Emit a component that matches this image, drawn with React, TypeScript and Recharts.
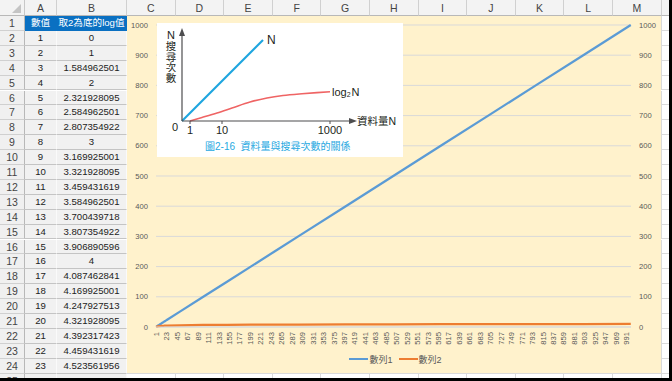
import { LineChart, Line, XAxis, YAxis, CartesianGrid, Legend, ReferenceDot } from "recharts";

const FONT = '"Liberation Sans", "Noto Sans CJK TC", sans-serif';

// spreadsheet contents
const colLetters = ["A", "B", "C", "D", "E", "F", "G", "H", "I", "J", "K", "L", "M", ""];
const colWidths = [32, 70, 48.6, 48.6, 48.6, 48.6, 48.6, 48.6, 48.6, 48.6, 48.6, 48.6, 48.6, 48.6];
const rowNumbers = [1, 2, 3, 4, 5, 6, 7, 8, 9, 10, 11, 12, 13, 14, 15, 16, 17, 18, 19, 20, 21, 22, 23, 24, 25];
const headerA = "數值";
const headerB = "取2為底的log值";
const valueN = [1, 2, 3, 4, 5, 6, 7, 8, 9, 10, 11, 12, 13, 14, 15, 16, 17, 18, 19, 20, 21, 22, 23, 24];
const valueLog = [
  "0", "1", "1.584962501", "2", "2.321928095", "2.584962501", "2.807354922", "3",
  "3.169925001", "3.321928095", "3.459431619", "3.584962501", "3.700439718", "3.807354922",
  "3.906890596", "4", "4.087462841", "4.169925001", "4.247927513", "4.321928095",
  "4.392317423", "4.459431619", "4.523561956", "4.584962501",
];

// main chart
const sampleN = [1, 2, 3, 4, 5, 6, 7, 8, 9, 10, 11, 12, 13, 14, 15, 16, 17, 18, 19, 20, 21, 22, 23, 24, 50, 100, 150, 200, 250, 300, 400, 500, 600, 700, 800, 900, 1000];
const series1 = [1, 2, 3, 4, 5, 6, 7, 8, 9, 10, 11, 12, 13, 14, 15, 16, 17, 18, 19, 20, 21, 22, 23, 24, 50, 100, 150, 200, 250, 300, 400, 500, 600, 700, 800, 900, 1000];
const series2 = [0, 1, 1.585, 2, 2.322, 2.585, 2.807, 3, 3.17, 3.322, 3.459, 3.585, 3.7, 3.807, 3.907, 4, 4.087, 4.17, 4.248, 4.322, 4.392, 4.459, 4.524, 4.585, 5.644, 6.644, 7.229, 7.644, 7.966, 8.229, 8.644, 8.966, 9.229, 9.451, 9.644, 9.814, 9.966];
const xTicks = [1, 23, 45, 67, 89, 111, 133, 155, 177, 199, 221, 243, 265, 287, 309, 331, 353, 375, 397, 419, 441, 463, 485, 507, 529, 551, 573, 595, 617, 639, 661, 683, 705, 727, 749, 771, 793, 815, 837, 859, 881, 903, 925, 947, 969, 991];
const yTicks = [0, 100, 200, 300, 400, 500, 600, 700, 800, 900, 1000];
const seriesNames = ["數列1", "數列2"];

const mainData = sampleN.map((n, i) => ({ n, s1: series1[i], s2: series2[i] }));

// inset figure (schematic)
const insetLineU = [0, 81];
const insetLineV = [0, 81];
const insetLogU = [8, 20, 35, 50, 68, 85, 101, 120, 135, 148];
const insetLogV = [0, 3.5, 8, 13, 19, 23, 25.5, 27.3, 28.4, 29.2];
const insetTicks = [8, 40, 148];
const insetTickLabels = ["1", "10", "1000"];

const insetN = insetLineU.map((u, i) => ({ u, v: insetLineV[i] }));
const insetLog = insetLogU.map((u, i) => ({ u, v: insetLogV[i] }));

const ROW_H = 14.9;
const HEAD_H = 16;
const ROWHEAD_W = 25;

function Sheet() {
  const lefts: number[] = [];
  let acc = ROWHEAD_W;
  colWidths.forEach((w) => {
    lefts.push(acc);
    acc += w;
  });
  const cells: any[] = [];
  // column header
  cells.push(
    <div key="corner" style={{ position: "absolute", left: 0, top: 0, width: ROWHEAD_W, height: HEAD_H, background: "#f3f3f3", borderRight: "1px solid #c8c8c8", borderBottom: "1px solid #b8b8b8", boxSizing: "border-box" }}>
      <div style={{ position: "absolute", right: 3, bottom: 2, width: 0, height: 0, borderLeft: "9px solid transparent", borderBottom: "9px solid #c4c4c4" }} />
    </div>
  );
  colLetters.forEach((c, i) => {
    cells.push(
      <div key={"h" + i} style={{ position: "absolute", left: lefts[i], top: 0, width: colWidths[i], height: HEAD_H, background: "#f3f3f3", borderRight: "1px solid #d0d0d0", borderBottom: "1px solid #b8b8b8", boxSizing: "border-box", fontSize: 10.5, color: "#444", textAlign: "center", lineHeight: HEAD_H + "px" }}>
        {c}
      </div>
    );
  });
  rowNumbers.forEach((r, ri) => {
    const top = HEAD_H + ri * ROW_H;
    cells.push(
      <div key={"r" + r} style={{ position: "absolute", left: 0, top, width: ROWHEAD_W, height: ROW_H, background: "#f0f0f0", borderRight: "1px solid #b8b8b8", borderBottom: "1px solid #d0d0d0", boxSizing: "border-box", fontSize: 10.5, color: "#444", textAlign: "center", lineHeight: ROW_H + "px" }}>
        {r}
      </div>
    );
    colWidths.forEach((w, ci) => {
      let bg = "#ffffff";
      let color = "#222";
      let text: any = "";
      let bb = "1px solid #dadada";
      let br = "1px solid #dadada";
      if (ci < 2) {
        if (r === 1) {
          bg = "#0a70c2";
          color = "#fff";
          text = ci === 0 ? headerA : headerB;
          br = "1px solid #0a70c2";
          bb = "1px solid #0a70c2";
        } else {
          bg = "#f1f1f1";
          text = ci === 0 ? valueN[r - 2] : valueLog[r - 2];
          bb = "1px solid #c4c4c4";
          br = "1px solid #fafafa";
        }
      }
      cells.push(
        <div key={"c" + r + "_" + ci} style={{ position: "absolute", left: lefts[ci], top, width: w, height: ROW_H, background: bg, borderRight: br, borderBottom: bb, boxSizing: "border-box", fontSize: 9.6, color, textAlign: "center", lineHeight: ROW_H + "px", whiteSpace: "nowrap", overflow: "hidden" }}>
          {text}
        </div>
      );
    });
  });
  return <>{cells}</>;
}

const RotTick = (props: any) => {
  const { x, y, payload } = props;
  return (
    <text x={x} y={y} transform={`rotate(-90 ${x} ${y})`} textAnchor="end" dy="0.35em" fontSize={7.6} fill="#595959" fontFamily={FONT}>
      {payload.value}
    </text>
  );
};

const renderLegend = (props: any) => {
  const items = props.payload || [];
  return (
    <div style={{ display: "flex", justifyContent: "center", alignItems: "center", height: 14, fontSize: 9, color: "#595959", fontFamily: FONT, paddingLeft: 3 }}>
      {items.map((e: any) => (
        <span key={e.value} style={{ display: "flex", alignItems: "center", margin: "0 3px" }}>
          <span style={{ display: "inline-block", width: 19, height: 2, background: e.color, marginRight: 1 }} />
          {e.value}
        </span>
      ))}
    </div>
  );
};

function MainChart() {
  return (
    <LineChart width={534} height={357} data={mainData} margin={{ top: 9, right: 0, bottom: 7, left: 0 }}>
      <CartesianGrid vertical={false} stroke="#d9d9d9" />
      <XAxis dataKey="n" type="number" domain={[0.5, 1000.5]} ticks={xTicks} interval={0} tick={<RotTick />} tickLine={false} tickSize={0} tickMargin={5} axisLine={{ stroke: "#d9d9d9" }} height={25} />
      <YAxis domain={[0, 1000]} ticks={yTicks} interval={0} width={29} tickSize={0} tickMargin={8} axisLine={false} tickLine={false} tick={{ fontSize: 7.6, fill: "#595959", fontFamily: FONT }} />
      <YAxis yAxisId="right" orientation="right" domain={[0, 1000]} ticks={yTicks} interval={0} width={30} tickSize={0} tickMargin={8} axisLine={false} tickLine={false} tick={{ fontSize: 7.6, fill: "#595959", fontFamily: FONT }} />
      <Legend verticalAlign="bottom" content={renderLegend} />
      <Line dataKey="s1" name={seriesNames[0]} stroke="#5b9bd5" strokeWidth={2.25} dot={false} activeDot={false} isAnimationActive={false} type="linear" />
      <Line dataKey="s2" yAxisId="right" name={seriesNames[1]} stroke="#ed7d31" strokeWidth={2.25} dot={false} activeDot={false} isAnimationActive={false} type="linear" />
    </LineChart>
  );
}

const ArrowRight = (p: any) => <path d={`M${p.cx + 4},${p.cy} L${p.cx - 4},${p.cy - 3} L${p.cx - 4},${p.cy + 3} Z`} fill="#4d4d4f" />;
const ArrowUp = (p: any) => <path d={`M${p.cx},${p.cy - 4} L${p.cx - 3},${p.cy + 4} L${p.cx + 3},${p.cy + 4} Z`} fill="#4d4d4f" />;

function InsetChart() {
  return (
    <div style={{ position: "relative", width: 246, height: 134 }}>
      <LineChart width={246} height={134} margin={{ top: 9, right: 50, bottom: 0, left: 0 }}>
        <XAxis dataKey="u" type="number" domain={[0, 171]} ticks={insetTicks} interval={0} tickFormatter={(v: number) => insetTickLabels[insetTicks.indexOf(v)]} tickSize={3} tickMargin={2} axisLine={{ stroke: "#4d4d4f", strokeWidth: 1.2 }} tickLine={{ stroke: "#4d4d4f" }} tick={{ fontSize: 11, fill: "#231f20", fontFamily: FONT }} height={36} />
        <YAxis type="number" domain={[0, 89]} width={25} tick={false} tickLine={false} axisLine={{ stroke: "#4d4d4f", strokeWidth: 1.2 }} />
        <Line data={insetN} dataKey="v" stroke="#1ea5df" strokeWidth={2.2} dot={false} activeDot={false} isAnimationActive={false} type="linear" />
        <Line data={insetLog} dataKey="v" stroke="#ef6464" strokeWidth={1.6} dot={false} activeDot={false} isAnimationActive={false} type="monotone" />
        <ReferenceDot x={171} y={0} ifOverflow="visible" shape={<ArrowRight />} />
        <ReferenceDot x={0} y={89} ifOverflow="visible" shape={<ArrowUp />} />
      </LineChart>
      <svg width={246} height={134} style={{ position: "absolute", left: 0, top: 0, pointerEvents: "none" }} fontFamily={FONT}>
        <g fill="#231f20" fontSize={10.5} textAnchor="middle" dominantBaseline="central">
          <text x={14} y={12} fontSize={11}>N</text>
          <text x={14} y={23}>搜</text>
          <text x={14} y={33.5}>尋</text>
          <text x={14} y={44}>次</text>
          <text x={14} y={54.5}>數</text>
          <text x={18} y={104} fontSize={11}>0</text>
        </g>
        <text x={110} y={17} fontSize={12} fill="#231f20" dominantBaseline="central">N</text>
        <text x={175} y={69} fontSize={11} fill="#231f20" dominantBaseline="central">
          log<tspan fontSize={7} dy={2}>2</tspan><tspan fontSize={11} dy={-2} dx={1}>N</tspan>
        </text>
        <text x={200} y={98} fontSize={10.5} fill="#231f20" dominantBaseline="central">資料量N</text>
        <text x={48} y={123} fontSize={10} fill="#27a9e1" dominantBaseline="central" style={{ whiteSpace: "pre" }}>圖2-16  資料量與搜尋次數的關係</text>
      </svg>
    </div>
  );
}

export default function App() {
  return (
    <div style={{ position: "fixed", left: 0, top: 0, width: 672, height: 381, overflow: "hidden", background: "#fff", fontFamily: FONT }}>
      <Sheet />
      <div style={{ position: "absolute", left: 127, top: 16, width: 534, height: 357, background: "#fff2cc" }}>
        <MainChart />
      </div>
      <div style={{ position: "absolute", left: 157, top: 23, width: 246, height: 134, background: "#ffffff" }}>
        <InsetChart />
      </div>
      <div style={{ position: "absolute", left: 669, top: 0, width: 3, height: 381, background: "#000" }} />
      <div style={{ position: "absolute", left: 0, top: 378, width: 672, height: 3, background: "#000" }} />
    </div>
  );
}
